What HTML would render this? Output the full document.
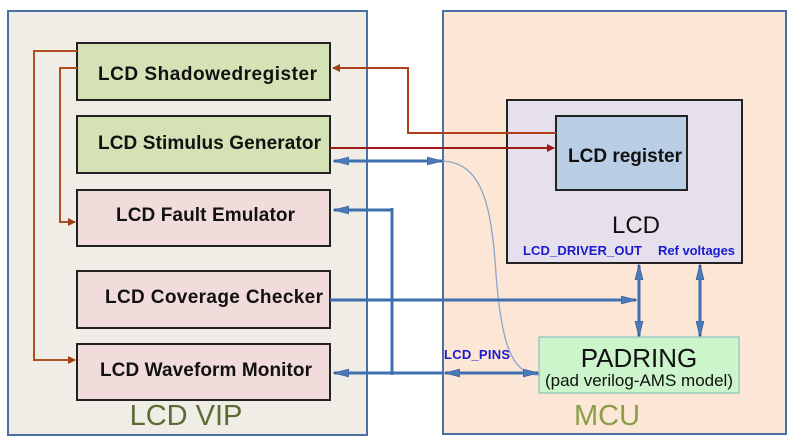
<!DOCTYPE html>
<html><head><style>
body{margin:0;background:#fff;}
svg{display:block;font-family:"Liberation Sans",sans-serif;}
</style></head><body>
<svg width="798" height="441" viewBox="0 0 798 441">
<defs>
<marker id="ra" markerWidth="8" markerHeight="8" refX="7" refY="4" orient="auto" markerUnits="userSpaceOnUse"><path d="M0,0 L8,4 L0,8z" fill="#a0401a"/></marker>
<marker id="rr" markerWidth="8" markerHeight="8" refX="7" refY="4" orient="auto" markerUnits="userSpaceOnUse"><path d="M0,0 L8,4 L0,8z" fill="#a01818"/></marker>
<marker id="ba" markerWidth="16" markerHeight="10" refX="15" refY="5" orient="auto-start-reverse" markerUnits="userSpaceOnUse"><path d="M0,1 L16,5 L0,9z" fill="#4a7ab8" stroke="#2c5488" stroke-width="0.6"/></marker>
</defs>
<rect x="8" y="11" width="359" height="424" fill="#efede5" stroke="#4a6fa5" stroke-width="2"/>
<rect x="443" y="11" width="343" height="423" fill="#fce6d5" stroke="#4a6fa5" stroke-width="2"/>
<g stroke="#222" stroke-width="2">
<rect x="77" y="43" width="253" height="57" fill="#d4e2b6"/>
<rect x="77" y="116" width="253" height="57" fill="#d4e2b6"/>
<rect x="77" y="190" width="253" height="56" fill="#f2dcdb"/>
<rect x="77" y="271" width="253" height="57" fill="#f2dcdb"/>
<rect x="77" y="344" width="253" height="56" fill="#f2dcdb"/>
<rect x="507" y="100" width="235" height="163" fill="#e5e0ec"/>
<rect x="556" y="116" width="131" height="74" fill="#b9cde5"/>
</g>
<rect x="539" y="337" width="200" height="56" fill="#ccf5cc" stroke="#7ab8b8" stroke-width="1"/>
<g font-size="19" font-weight="bold" fill="#111">
<text x="98" y="80" textLength="219">LCD Shadowedregister</text>
<text x="98" y="149" textLength="223">LCD Stimulus Generator</text>
<text x="116" y="221" textLength="179">LCD Fault Emulator</text>
<text x="105" y="303" textLength="218">LCD Coverage Checker</text>
<text x="100" y="376" textLength="212">LCD Waveform Monitor</text>
<text x="568" y="162" textLength="114">LCD register</text>
</g>
<text x="636" y="233" font-size="24" text-anchor="middle" fill="#111">LCD</text>
<g font-size="13" font-weight="bold" fill="#1a1ad0">
<text x="523" y="255" textLength="119">LCD_DRIVER_OUT</text>
<text x="658" y="255" textLength="77">Ref voltages</text>
<text x="444" y="359" textLength="66">LCD_PINS</text>
</g>
<text x="639" y="367" font-size="26" text-anchor="middle" fill="#111">PADRING</text>
<text x="639" y="386" font-size="17" text-anchor="middle" fill="#111">(pad verilog-AMS model)</text>
<text x="186" y="425" font-size="29" text-anchor="middle" fill="#5d6b35">LCD VIP</text>
<text x="607" y="425" font-size="29" text-anchor="middle" fill="#8a9e4a">MCU</text>
<g fill="none" stroke="#b0501f" stroke-width="2">
<path d="M77,51 H34 V360 H75" marker-end="url(#ra)"/>
<path d="M77,68 H60 V222 H75" marker-end="url(#ra)"/>
</g>
<g fill="none" stroke="#a01818" stroke-width="2">
<path d="M556,133 H408 V68 H333" stroke="#b0401a" marker-end="url(#ra)"/>
<path d="M330,148 H554" marker-end="url(#rr)"/>
</g>
<path d="M440,161 C480,161 490,200 495,260 C500,340 510,375 540,375" fill="none" stroke="#8aa6c8" stroke-width="1.3"/>
<g fill="none" stroke="#3e6fb0" stroke-width="3">
<path d="M334,161 H442" marker-start="url(#ba)" marker-end="url(#ba)"/>
<path d="M392,210 H334" marker-end="url(#ba)"/>
<path d="M392,208 V375"/>
<path d="M330,300 H636" marker-end="url(#ba)"/>
<path d="M443,373 H334" marker-end="url(#ba)"/>
<path d="M445,373 H538" marker-start="url(#ba)" marker-end="url(#ba)"/>
<path d="M639,265 V336" marker-start="url(#ba)" marker-end="url(#ba)"/>
<path d="M700,265 V336" marker-start="url(#ba)" marker-end="url(#ba)"/>
</g>
</svg>
</body></html>
